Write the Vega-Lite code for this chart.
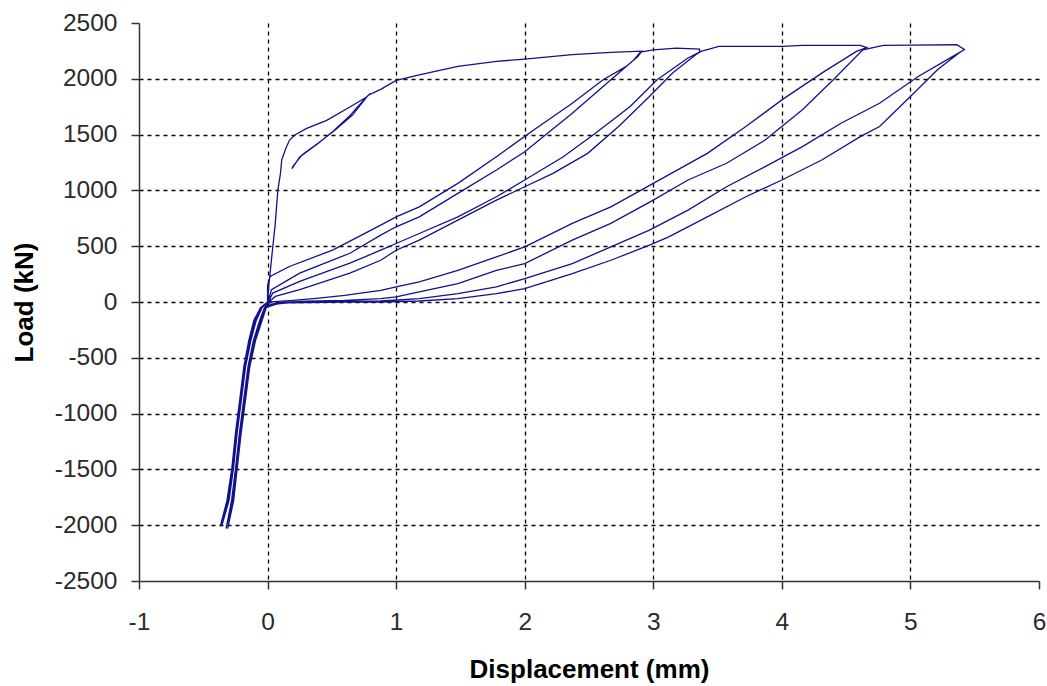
{
"$schema":"https://vega.github.io/schema/vega-lite/v6.json",
"width":900,"height":558,
"autosize":"none",
"padding":{"left":139,"top":23,"right":8,"bottom":105},
"background":"white",
"config":{"view":{"stroke":null}},
"data":{"values":[
{"i":1,"d":0,"p":0},{"i":2,"d":0.01,"p":150},{"i":3,"d":0.03,"p":378},{"i":4,"d":0.06,"p":705},{"i":5,"d":0.08,"p":1003},{"i":6,"d":0.1,"p":1150},{"i":7,"d":0.11,"p":1271},{"i":8,"d":0.14,"p":1370},{"i":9,"d":0.17,"p":1449},{"i":10,"d":0.21,"p":1494},
{"i":11,"d":0.3,"p":1553},{"i":12,"d":0.46,"p":1628},{"i":13,"d":0.64,"p":1747},{"i":14,"d":0.77,"p":1836},{"i":15,"d":0.8,"p":1870},{"i":16,"d":0.74,"p":1800},{"i":17,"d":0.64,"p":1670},{"i":18,"d":0.51,"p":1530},{"i":19,"d":0.38,"p":1410},{"i":20,"d":0.25,"p":1300},
{"i":21,"d":0.19,"p":1195},{"i":22,"d":0.2,"p":1220},{"i":23,"d":0.27,"p":1320},{"i":24,"d":0.4,"p":1430},{"i":25,"d":0.53,"p":1545},{"i":26,"d":0.66,"p":1675},{"i":27,"d":0.78,"p":1850},{"i":28,"d":0.85,"p":1890},{"i":29,"d":0.88,"p":1905},{"i":30,"d":1.0,"p":1985},
{"i":31,"d":1.18,"p":2036},{"i":32,"d":1.48,"p":2111},{"i":33,"d":1.78,"p":2156},{"i":34,"d":2.0,"p":2177},{"i":35,"d":2.37,"p":2216},{"i":36,"d":2.67,"p":2236},{"i":37,"d":2.91,"p":2248},{"i":38,"d":2.88,"p":2200},{"i":39,"d":2.79,"p":2111},{"i":40,"d":2.61,"p":1991},
{"i":41,"d":2.37,"p":1781},{"i":42,"d":2.07,"p":1542},{"i":43,"d":1.78,"p":1302},{"i":44,"d":1.48,"p":1063},{"i":45,"d":1.18,"p":853},{"i":46,"d":1.0,"p":763},{"i":47,"d":0.88,"p":689},{"i":48,"d":0.51,"p":467},{"i":49,"d":0.17,"p":318},{"i":50,"d":0.02,"p":229},
{"i":51,"d":0.0,"p":150},{"i":52,"d":0,"p":0},{"i":53,"d":-0.055,"p":-50},{"i":54,"d":-0.107,"p":-165},{"i":55,"d":-0.146,"p":-345},{"i":56,"d":-0.185,"p":-580},{"i":57,"d":-0.217,"p":-880},{"i":58,"d":-0.25,"p":-1180},{"i":59,"d":-0.277,"p":-1480},{"i":60,"d":-0.316,"p":-1780},
{"i":61,"d":-0.368,"p":-2010},{"i":62,"d":-0.311,"p":-1780},{"i":63,"d":-0.273,"p":-1480},{"i":64,"d":-0.246,"p":-1180},{"i":65,"d":-0.213,"p":-880},{"i":66,"d":-0.18,"p":-580},{"i":67,"d":-0.141,"p":-345},{"i":68,"d":-0.101,"p":-165},{"i":69,"d":-0.051,"p":-50},{"i":70,"d":0.003,"p":0},
{"i":71,"d":0.03,"p":110},{"i":72,"d":0.25,"p":259},{"i":73,"d":0.64,"p":437},{"i":74,"d":0.88,"p":599},{"i":75,"d":1.0,"p":674},{"i":76,"d":1.18,"p":763},{"i":77,"d":1.48,"p":973},{"i":78,"d":1.78,"p":1183},{"i":79,"d":2.0,"p":1347},{"i":80,"d":2.37,"p":1692},
{"i":81,"d":2.67,"p":1991},{"i":82,"d":2.85,"p":2171},{"i":83,"d":2.9,"p":2240},{"i":84,"d":3.0,"p":2260},{"i":85,"d":3.18,"p":2275},{"i":86,"d":3.36,"p":2266},{"i":87,"d":3.36,"p":2240},{"i":88,"d":3.27,"p":2186},{"i":89,"d":3.03,"p":1991},{"i":90,"d":2.82,"p":1752},
{"i":91,"d":2.55,"p":1512},{"i":92,"d":2.3,"p":1302},{"i":93,"d":2.0,"p":1093},{"i":94,"d":1.78,"p":943},{"i":95,"d":1.48,"p":763},{"i":96,"d":1.18,"p":614},{"i":97,"d":1.0,"p":524},{"i":98,"d":0.88,"p":464},{"i":99,"d":0.64,"p":348},{"i":100,"d":0.25,"p":185},
{"i":101,"d":0.04,"p":80},{"i":102,"d":0.006,"p":0},{"i":103,"d":-0.046,"p":-50},{"i":104,"d":-0.094,"p":-165},{"i":105,"d":-0.136,"p":-345},{"i":106,"d":-0.176,"p":-580},{"i":107,"d":-0.208,"p":-880},{"i":108,"d":-0.241,"p":-1180},{"i":109,"d":-0.269,"p":-1480},{"i":110,"d":-0.306,"p":-1780},
{"i":111,"d":-0.355,"p":-2000},{"i":112,"d":-0.3,"p":-1780},{"i":113,"d":-0.264,"p":-1480},{"i":114,"d":-0.237,"p":-1180},{"i":115,"d":-0.204,"p":-880},{"i":116,"d":-0.171,"p":-580},{"i":117,"d":-0.13,"p":-345},{"i":118,"d":-0.088,"p":-165},{"i":119,"d":-0.042,"p":-50},{"i":120,"d":0.009,"p":0},
{"i":121,"d":0.06,"p":50},{"i":122,"d":0.25,"p":110},{"i":123,"d":0.64,"p":259},{"i":124,"d":0.88,"p":374},{"i":125,"d":1.0,"p":464},{"i":126,"d":1.18,"p":554},{"i":127,"d":1.48,"p":734},{"i":128,"d":1.78,"p":913},{"i":129,"d":2.0,"p":1033},{"i":130,"d":2.22,"p":1153},
{"i":131,"d":2.49,"p":1332},{"i":132,"d":2.73,"p":1572},{"i":133,"d":2.97,"p":1841},{"i":134,"d":3.15,"p":2051},{"i":135,"d":3.33,"p":2216},{"i":136,"d":3.37,"p":2245},{"i":137,"d":3.42,"p":2262},{"i":138,"d":3.51,"p":2290},{"i":139,"d":4.0,"p":2290},{"i":140,"d":4.16,"p":2299},
{"i":141,"d":4.61,"p":2299},{"i":142,"d":4.66,"p":2280},{"i":143,"d":4.58,"p":2245},{"i":144,"d":4.31,"p":2051},{"i":145,"d":4.0,"p":1811},{"i":146,"d":3.72,"p":1572},{"i":147,"d":3.42,"p":1332},{"i":148,"d":3.0,"p":1063},{"i":149,"d":2.67,"p":853},{"i":150,"d":2.37,"p":704},
{"i":151,"d":2.0,"p":494},{"i":152,"d":1.78,"p":404},{"i":153,"d":1.48,"p":284},{"i":154,"d":1.18,"p":180},{"i":155,"d":1.0,"p":135},{"i":156,"d":0.88,"p":105},{"i":157,"d":0.6,"p":60},{"i":158,"d":0.4,"p":35},{"i":159,"d":0.2,"p":15},{"i":160,"d":0.08,"p":5},
{"i":161,"d":0.021,"p":0},{"i":162,"d":-0.024,"p":-50},{"i":163,"d":-0.062,"p":-165},{"i":164,"d":-0.11,"p":-345},{"i":165,"d":-0.152,"p":-580},{"i":166,"d":-0.186,"p":-880},{"i":167,"d":-0.219,"p":-1180},{"i":168,"d":-0.248,"p":-1480},{"i":169,"d":-0.28,"p":-1780},{"i":170,"d":-0.323,"p":-2030},
{"i":171,"d":-0.274,"p":-1780},{"i":172,"d":-0.243,"p":-1480},{"i":173,"d":-0.215,"p":-1180},{"i":174,"d":-0.181,"p":-880},{"i":175,"d":-0.147,"p":-580},{"i":176,"d":-0.104,"p":-345},{"i":177,"d":-0.055,"p":-165},{"i":178,"d":-0.019,"p":-50},{"i":179,"d":0.03,"p":-20},{"i":180,"d":0.1,"p":-5},
{"i":181,"d":0.3,"p":8},{"i":182,"d":0.6,"p":15},{"i":183,"d":0.88,"p":30},{"i":184,"d":1.0,"p":45},{"i":185,"d":1.18,"p":90},{"i":186,"d":1.48,"p":165},{"i":187,"d":1.78,"p":284},{"i":188,"d":2.0,"p":344},{"i":189,"d":2.37,"p":554},{"i":190,"d":2.67,"p":704},
{"i":191,"d":3.0,"p":913},{"i":192,"d":3.27,"p":1093},{"i":193,"d":3.57,"p":1243},{"i":194,"d":3.87,"p":1452},{"i":195,"d":4.16,"p":1722},{"i":196,"d":4.4,"p":1991},{"i":197,"d":4.63,"p":2260},{"i":198,"d":4.79,"p":2299},{"i":199,"d":5.0,"p":2302},{"i":200,"d":5.36,"p":2305},
{"i":201,"d":5.42,"p":2262},{"i":202,"d":5.33,"p":2201},{"i":203,"d":5.06,"p":2021},{"i":204,"d":4.76,"p":1781},{"i":205,"d":4.46,"p":1602},{"i":206,"d":4.16,"p":1392},{"i":207,"d":3.87,"p":1213},{"i":208,"d":3.57,"p":1033},{"i":209,"d":3.27,"p":823},{"i":210,"d":2.97,"p":644},
{"i":211,"d":2.67,"p":494},{"i":212,"d":2.37,"p":344},{"i":213,"d":2.0,"p":210},{"i":214,"d":1.78,"p":135},{"i":215,"d":1.48,"p":75},{"i":216,"d":1.18,"p":30},{"i":217,"d":0.88,"p":9},{"i":218,"d":0.6,"p":5},{"i":219,"d":0.3,"p":0},{"i":220,"d":0.1,"p":-10},
{"i":221,"d":0.05,"p":-25},{"i":222,"d":-0.015,"p":-50},{"i":223,"d":-0.049,"p":-165},{"i":224,"d":-0.099,"p":-345},{"i":225,"d":-0.143,"p":-580},{"i":226,"d":-0.177,"p":-880},{"i":227,"d":-0.21,"p":-1180},{"i":228,"d":-0.239,"p":-1480},{"i":229,"d":-0.269,"p":-1780},{"i":230,"d":-0.31,"p":-2030},
{"i":231,"d":-0.264,"p":-1780},{"i":232,"d":-0.235,"p":-1480},{"i":233,"d":-0.206,"p":-1180},{"i":234,"d":-0.172,"p":-880},{"i":235,"d":-0.138,"p":-580},{"i":236,"d":-0.094,"p":-345},{"i":237,"d":-0.042,"p":-165},{"i":238,"d":-0.01,"p":-50},{"i":239,"d":0.05,"p":-20},{"i":240,"d":0.15,"p":-8},
{"i":241,"d":0.3,"p":-5},{"i":242,"d":0.6,"p":0},{"i":243,"d":0.88,"p":0},{"i":244,"d":1.18,"p":9},{"i":245,"d":1.48,"p":30},{"i":246,"d":1.78,"p":75},{"i":247,"d":2.0,"p":120},{"i":248,"d":2.37,"p":254},{"i":249,"d":2.67,"p":374},{"i":250,"d":2.97,"p":509},
{"i":251,"d":3.12,"p":584},{"i":252,"d":3.42,"p":763},{"i":253,"d":3.72,"p":943},{"i":254,"d":4.0,"p":1093},{"i":255,"d":4.31,"p":1272},{"i":256,"d":4.61,"p":1482},{"i":257,"d":4.76,"p":1572},{"i":258,"d":5.0,"p":1841},{"i":259,"d":5.21,"p":2081},{"i":260,"d":5.36,"p":2216},
{"i":261,"d":5.4,"p":2250}
]},
"mark":{"type":"line","color":"#12128a","strokeWidth":1.3,"interpolate":"linear","clip":true},
"encoding":{
"x":{"field":"d","type":"quantitative","scale":{"domain":[-1,6],"nice":false,"zero":false},
"axis":{"title":"Displacement (mm)","values":[-1,0,1,2,3,4,5,6],"labelExpr":"toString(datum.value)",
"labelFont":"Liberation Sans","labelFontSize":24.5,"labelColor":"#2a2a2a","labelPadding":21,"labelFlush":false,"labelOverlap":false,
"tickSize":8,"tickColor":"#333333","tickWidth":1.5,"domainColor":"#333333","domainWidth":1.5,
"grid":true,"gridColor":"#000000","gridDash":[4,4],"gridWidth":1.3,
"gridOpacity":{"condition":{"test":"datum.value === 6 || datum.value === -1","value":0},"value":1},
"titleFont":"Liberation Sans","titleFontSize":26,"titleFontWeight":"bold","titleColor":"#000000","titleY":96,"titleBaseline":"alphabetic"}},
"y":{"field":"p","type":"quantitative","scale":{"domain":[-2500,2500],"nice":false,"zero":false},
"axis":{"title":"Load (kN)","values":[-2500,-2000,-1500,-1000,-500,0,500,1000,1500,2000,2500],"labelExpr":"toString(datum.value)",
"labelFont":"Liberation Sans","labelFontSize":24.5,"labelColor":"#2a2a2a","labelPadding":14,"labelFlush":false,"labelOverlap":false,
"tickSize":8,"tickColor":"#333333","tickWidth":1.5,"domainColor":"#333333","domainWidth":1.5,
"grid":true,"gridColor":"#000000","gridDash":[4,4],"gridWidth":1.3,
"gridOpacity":{"condition":{"test":"datum.value === 2500 || datum.value === -2500","value":0},"value":1},
"titleFont":"Liberation Sans","titleFontSize":26,"titleFontWeight":"bold","titleColor":"#000000","titleX":-107,"titleBaseline":"alphabetic","titleAngle":-90}},
"order":{"field":"i","type":"quantitative"}
}
}
